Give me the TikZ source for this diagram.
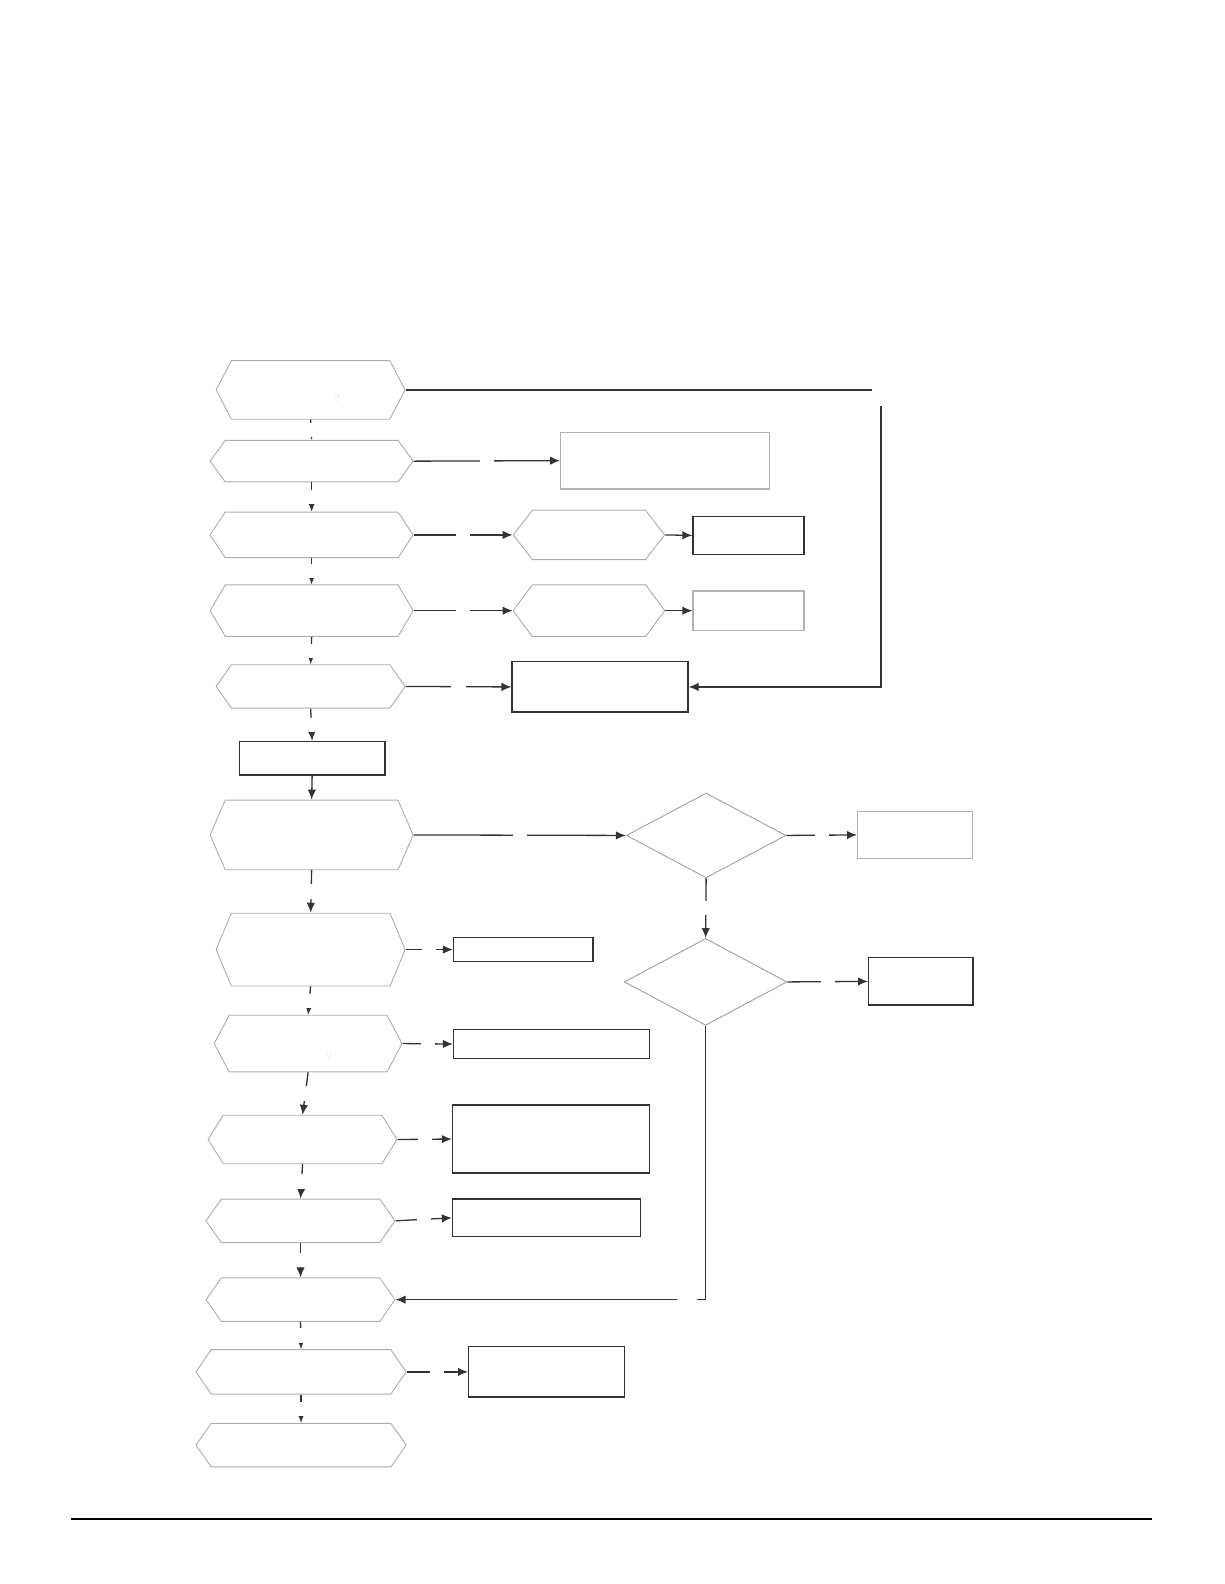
\documentclass[tikz,border=0pt]{standalone}
\usepackage{tikz}
\usetikzlibrary{arrows.meta, positioning, shapes.symbols, shapes.geometric}
\newdimen\pxu
\pxu=0.50495pt

\begin{document}
\begin{tikzpicture}[
        x=0.50495pt, y=-0.50495pt,
        hex/.style={
            shape=signal,
            signal to=east and west,
            signal pointer angle=#1,
            draw=gray!65,
            line width=0.45pt,
            inner sep=0pt
        },
        hex/.default=110,
        decision/.style={
            shape=diamond,
            draw=gray!75,
            line width=0.45pt,
            inner sep=0pt
        },
        box/.style={
            draw=black!80,
            line width=0.7pt,
            inner sep=0pt
        },
        lightbox/.style={box, draw=gray!60, line width=0.65pt},
        arrow/.style={
            -{Latex[length=5pt, width=4.2pt]},
            draw=black!80,
            line width=0.65pt
        },
        gap/.style={
            midway,
            fill=white,
            inner sep=0pt,
            minimum size=14\pxu
        },
        faint/.style={font=\tiny, text=gray!25, inner sep=0pt},
        footrule/.style={draw=black, line width=1pt}
    ]

    \useasboundingbox (0,0) rectangle (1212,1568);

    \node[hex=125, minimum width=187\pxu, minimum height=58\pxu] (ask1) at (307.5,386) {};
    \node[hex=108, minimum width=201\pxu, minimum height=41\pxu] (ask2) at (308.5,456.5) {};
    \node[hex=113, minimum width=201\pxu, minimum height=45\pxu] (ask3) at (308.5,529.5) {};
    \node[hex=119, minimum width=201\pxu, minimum height=51\pxu] (ask4) at (308.5,604.5) {};
    \node[hex=110, minimum width=187\pxu, minimum height=43\pxu] (ask5) at (307.5,679.5) {};
    \node[box, minimum width=144\pxu, minimum height=33\pxu] (step1) at (309,750.5) {};
    \node[hex=133, minimum width=201\pxu, minimum height=69\pxu] (ask6) at (308.5,826.5) {};
    \node[hex=135, minimum width=187\pxu, minimum height=72\pxu] (ask7) at (307.5,940) {};
    \node[hex=124, minimum width=186\pxu, minimum height=56\pxu] (ask8) at (305,1033) {};
    \node[hex=116, minimum width=187\pxu, minimum height=48\pxu] (ask9) at (299.5,1128) {};
    \node[hex, minimum width=187\pxu, minimum height=43\pxu] (ask10) at (297.5,1208.5) {};
    \node[hex, minimum width=187\pxu, minimum height=43\pxu] (ask11) at (297.5,1286.5) {};
    \node[hex=111, minimum width=208\pxu, minimum height=44\pxu] (ask12) at (298,1358) {};
    \node[hex, minimum width=208\pxu, minimum height=43\pxu] (ask13) at (298,1430.5) {};

    \node[lightbox, minimum width=207\pxu, minimum height=56\pxu] (note2) at (658.5,456) {};
    \node[hex=104, minimum width=150\pxu, minimum height=49\pxu] (ask3b) at (583,529.5) {};
    \node[box, minimum width=110\pxu, minimum height=38\pxu] (note3) at (741,530) {};
    \node[hex=107, minimum width=150\pxu, minimum height=51\pxu] (ask4b) at (583,604.5) {};
    \node[lightbox, minimum width=110\pxu, minimum height=39\pxu] (note4) at (741,604.5) {};
    \node[box, minimum width=174\pxu, minimum height=50\pxu] (note5) at (594,680) {};

    \node[decision, minimum width=158\pxu, minimum height=84\pxu] (dec1) at (699,827) {};
    \node[lightbox, minimum width=114\pxu, minimum height=47\pxu] (note6) at (906,826.5) {};
    \node[decision, minimum width=161\pxu, minimum height=86\pxu] (dec2) at (698.5,972) {};
    \node[box, minimum width=103\pxu, minimum height=47\pxu] (note7) at (911.5,971.5) {};

    \node[box, minimum width=138\pxu, minimum height=24\pxu] (note8) at (518,940) {};
    \node[box, minimum width=194\pxu, minimum height=29\pxu] (note9) at (546,1033.5) {};
    \node[box, minimum width=195\pxu, minimum height=67\pxu] (note10) at (545.5,1127.5) {};
    \node[box, minimum width=186\pxu, minimum height=37\pxu] (note11) at (541,1205.5) {};
    \node[box, minimum width=154\pxu, minimum height=50\pxu] (note12) at (541,1358) {};

    \node[faint] (mark1) at (334,394) {?};
    \node[faint] (mark8) at (326,1046) {?};

    \coordinate (turn1) at (872,386);
    \coordinate (footl) at (70,1504);
    \coordinate (footr) at (1140,1504);

    \draw[arrow] (ask1.south) -- node[gap]{} (ask2.north);
    \draw[arrow] (ask2.south) -- node[gap]{} (ask3.north);
    \draw[arrow] (ask3.south) -- node[gap]{} (ask4.north);
    \draw[arrow] (ask4.south) -- node[gap]{} (ask5.north);
    \draw[arrow] (ask5.south) -- node[gap]{} (step1.north);
    \draw[arrow] (step1.south) -- (ask6.north);
    \draw[arrow] (ask6.south) -- node[gap]{} (ask7.north);
    \draw[arrow] (ask7.south) -- node[gap]{} (ask8.north);
    \draw[arrow] (ask8.south) -- node[gap]{} (ask9.north);
    \draw[arrow] (ask9.south) -- node[gap]{} (ask10.north);
    \draw[arrow] (ask10.south) -- node[gap]{} (ask11.north);
    \draw[arrow] (ask11.south) -- node[gap]{} (ask12.north);
    \draw[arrow] (ask12.south) -- node[gap]{} (ask13.north);

    \draw[arrow] (ask1.east) -- node[gap, pos=1, yshift=-7\pxu, minimum size=17\pxu]{} (turn1)
        |- (note5.east);
    \draw[arrow] (ask2.east) -- node[gap]{} (note2.west);
    \draw[arrow] (ask3.east) -- node[gap]{} (ask3b.west);
    \draw[arrow] (ask3b.east) -- (note3.west);
    \draw[arrow] (ask4.east) -- node[gap]{} (ask4b.west);
    \draw[arrow] (ask4b.east) -- (note4.west);
    \draw[arrow] (ask5.east) -- node[gap]{} (note5.west);

    \draw[arrow] (ask6.east) -- node[gap]{} (dec1.west);
    \draw[arrow] (dec1.east) -- node[gap]{} (note6.west);
    \draw[arrow] (dec1.south) -- node[gap]{} (dec2.north);
    \draw[arrow] (dec2.east) -- node[gap]{} (note7.west);
    \draw[arrow] (dec2.south) |- node[gap, pos=0.53, minimum width=19\pxu]{} (ask11.east);

    \draw[arrow] (ask7.east) -- node[gap]{} (note8.west);
    \draw[arrow] (ask8.east) -- node[gap]{} (note9.west);
    \draw[arrow] (ask9.east) -- node[gap]{} (note10.west);
    \draw[arrow] (ask10.east) -- node[gap]{} (note11.west);
    \draw[arrow] (ask12.east) -- node[gap]{} (note12.west);

    \draw[footrule] (footl) -- (footr);

    \end{tikzpicture}
\end{document}
